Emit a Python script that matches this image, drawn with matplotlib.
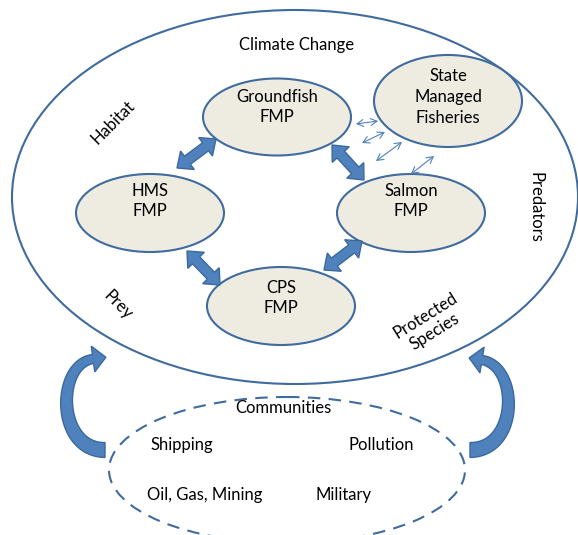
import numpy as np
import matplotlib.pyplot as plt
from matplotlib.patches import Ellipse, Polygon, FancyArrowPatch

plt.rcParams['font.family'] = ['Lato', 'DejaVu Sans']

# node ellipses (labels and centres, pixel space)
node_labels = ["Groundfish\nFMP", "State\nManaged\nFisheries", "HMS\nFMP", "Salmon\nFMP", "CPS\nFMP"]
node_x = [277, 448, 150, 411, 281]
node_y = [117, 101, 213, 213, 306]
node_h = [77, 92, 78, 78, 78]
node_ty = [107, 97, 201, 201, 298]

# thick two-way links between FMPs (start, end)
thick_links = [((177, 168), (216, 139)),
               ((332, 145), (364, 180)),
               ((187, 251), (220, 285)),
               ((362, 241), (324, 270))]

# thin links to state managed fisheries
thin_links = [((356, 124), (378, 121)),
              ((362, 143), (385, 132)),
              ((376, 161), (402, 142)),
              ((411, 174), (434, 156))]

# outer labels
outer_text = ["Climate Change", "Habitat", "Predators", "Prey", "Protected\nSpecies"]
outer_x = [297, 113, 536, 118, 430]
outer_y = [45, 122, 207, 305, 324]
outer_rot = [0, 45, -90, -45, 32]

# communities
comm_text = ["Communities", "Shipping", "Pollution", "Oil, Gas, Mining", "Military"]
comm_x = [283, 182, 381, 205, 344]
comm_y = [408, 445, 445, 495, 495]

edge = "#3f6b9e"
fill = "#eeece1"
arrow_fill = "#4f81bd"
arrow_edge = "#3c689c"

fig = plt.figure(figsize=(5.78, 5.35), dpi=100)
ax = fig.add_axes([0, 0, 1, 1])
ax.set_xlim(0, 578)
ax.set_ylim(535, 0)
ax.axis("off")

# outer ellipse
ax.add_patch(Ellipse((295, 197), 566, 374, fc="white", ec=edge, lw=1.5))

# communities dashed ellipse
ax.add_patch(Ellipse((287, 470), 356, 146, fc="none", ec=edge, lw=1.5, ls=(0, (6, 4))))


def double_arrow(p0, p1, shaft=10, head=23, hlen=13):
    p0 = np.array(p0, float)
    p1 = np.array(p1, float)
    d = p1 - p0
    L = np.hypot(*d)
    u = d / L
    n = np.array([-u[1], u[0]])
    s, h = shaft / 2, head / 2
    pts = [(0, 0), (hlen, h), (hlen, s), (L - hlen, s), (L - hlen, h), (L, 0),
           (L - hlen, -h), (L - hlen, -s), (hlen, -s), (hlen, -h)]
    xy = [p0 + a * u + b * n for a, b in pts]
    ax.add_patch(Polygon(xy, closed=True, fc=arrow_fill, ec=arrow_edge, lw=1, zorder=3))


def curved_arrow(ctrl, w0=15, w1=9, head=26, hlen=13):
    P = np.array(ctrl, float)
    t = np.linspace(0, 1, 60)[:, None]
    c = ((1 - t) ** 3 * P[0] + 3 * (1 - t) ** 2 * t * P[1]
         + 3 * (1 - t) * t ** 2 * P[2] + t ** 3 * P[3])
    dc = (3 * (1 - t) ** 2 * (P[1] - P[0]) + 6 * (1 - t) * t * (P[2] - P[1])
          + 3 * t ** 2 * (P[3] - P[2]))
    dc /= np.hypot(dc[:, 0], dc[:, 1])[:, None]
    nn = np.column_stack([-dc[:, 1], dc[:, 0]])
    w = (w0 + (w1 - w0) * t) / 2
    side_a = c + nn * w
    side_b = c - nn * w
    u, n_end = dc[-1], nn[-1]
    tip = c[-1] + u * hlen
    headpts = [c[-1] + n_end * head / 2, tip, c[-1] - n_end * head / 2]
    xy = np.vstack([side_a, headpts, side_b[::-1]])
    ax.add_patch(Polygon(xy, closed=True, fc=arrow_fill, ec=arrow_edge, lw=1, zorder=3))


for p0, p1 in thick_links:
    double_arrow(p0, p1)

for p0, p1 in thin_links:
    ax.add_patch(FancyArrowPatch(p0, p1, arrowstyle="<->,head_length=4.5,head_width=2.5",
                                 color=arrow_fill, lw=0.8, mutation_scale=1,
                                 shrinkA=0, shrinkB=0, zorder=3))

for lab, x, y, h, ty in zip(node_labels, node_x, node_y, node_h, node_ty):
    ax.add_patch(Ellipse((x, y), 148, h, fc=fill, ec=edge, lw=1.5, zorder=2))
    ax.text(x, ty, lab, ha="center", va="center", fontsize=12, linespacing=1.35, zorder=4)

for t, x, y, r in zip(outer_text, outer_x, outer_y, outer_rot):
    ax.text(x, y, t, ha="center", va="center", rotation=r, fontsize=12,
            linespacing=1.2, rotation_mode="anchor")

for t, x, y in zip(comm_text, comm_x, comm_y):
    ax.text(x, y, t, ha="center", va="center", fontsize=12)

# curved arrows from communities to the ecosystem
curved_arrow([(105, 450), (56, 450), (56, 364), (93, 359)])
curved_arrow([(470, 450), (519, 450), (519, 366), (482, 360)])

fig.savefig("out.png", dpi=100)
